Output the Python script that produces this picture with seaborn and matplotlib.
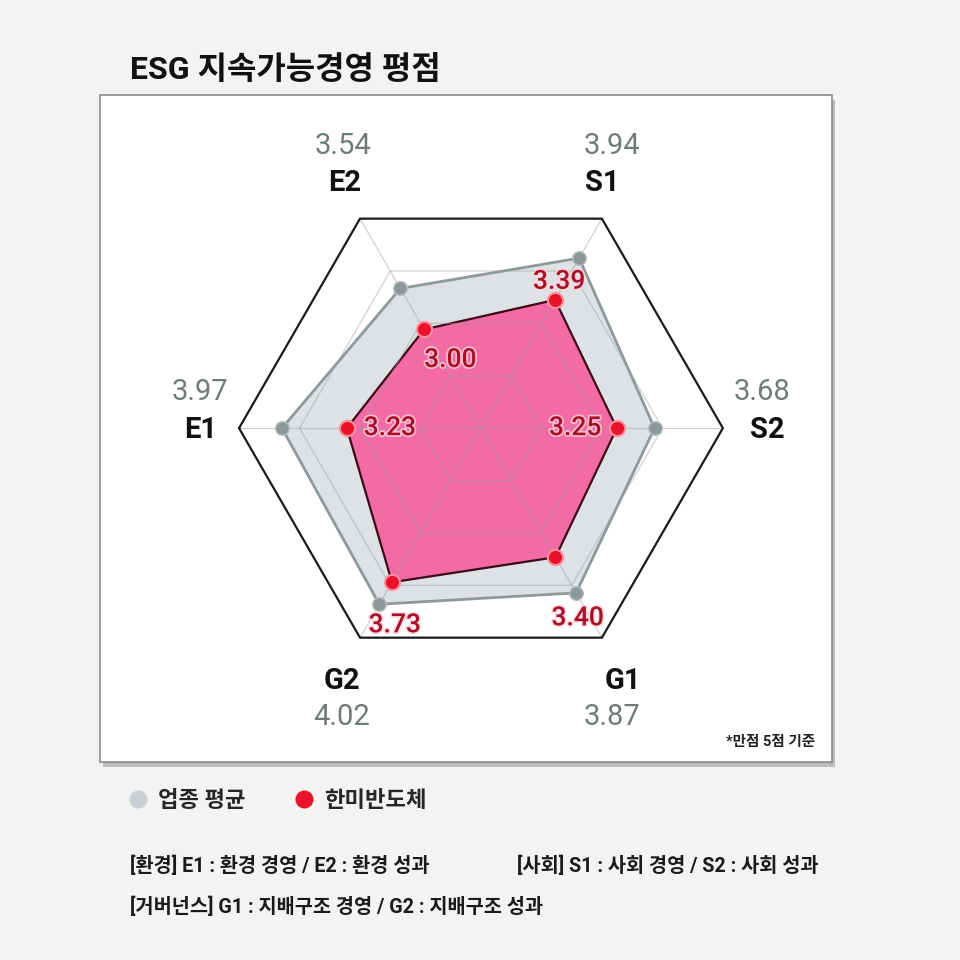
import numpy as np
import pandas as pd
import seaborn as sns
import matplotlib.pyplot as plt
import matplotlib.patheffects as pe
from matplotlib.lines import Line2D
from matplotlib.patches import Rectangle

# scores per ESG axis, clockwise from the left vertex
axes_labels = ['E1', 'E2', 'S1', 'S2', 'G1', 'G2']
industry_avg = [3.97, 3.54, 3.94, 3.68, 3.87, 4.02]
hanmi = [3.23, 3.00, 3.39, 3.25, 3.40, 3.73]
group_names = ['업종 평균', '한미반도체']
ring_levels = [2.39, 3.08, 3.77, 4.46]
r_min = 1.70

notes = ['[환경] E1 : 환경 경영 / E2 : 환경 성과',
         '[사회] S1 : 사회 경영 / S2 : 사회 성과',
         '[거버넌스] G1 : 지배구조 경영 / G2 : 지배구조 성과']

theta = np.linspace(0, 2 * np.pi, len(axes_labels), endpoint=False)
df = pd.DataFrame({
    'axis': axes_labels * 2,
    'theta': np.concatenate([theta, theta]),
    'score': industry_avg + hanmi,
    'group': [group_names[0]] * 6 + [group_names[1]] * 6,
})

sns.set_theme(style='white')
plt.rcParams['font.family'] = ['Roboto', 'Noto Sans CJK KR', 'DejaVu Sans']

GRAY_PT = '#8d9899'
RED_PT = '#e8142c'
RED_TXT = '#a8102a'

fig = plt.figure(figsize=(9.6, 9.6), dpi=100, facecolor='#f3f4f2')

# white panel with a soft shadow
fig.add_artist(Rectangle((0.107, 0.201), 0.7625, 0.695, transform=fig.transFigure,
                         facecolor='#bdbdbd', edgecolor='none', zorder=0))
fig.add_artist(Rectangle((0.104, 0.206), 0.7625, 0.695, transform=fig.transFigure,
                         facecolor='white', edgecolor='#8a8a8a', lw=1.2, zorder=0))

ax = fig.add_axes([0.249, 0.302, 0.504, 0.504], projection='polar')
ax.set_facecolor('none')
ax.set_theta_offset(np.pi)
ax.set_theta_direction(-1)
ax.set_ylim(r_min, ring_levels[-1])
ax.grid(False)
ax.spines['polar'].set_visible(False)
ax.set_xticks([])
ax.set_yticks([])

closed = np.append(theta, theta[0])
avg_c = industry_avg + industry_avg[:1]
han_c = hanmi + hanmi[:1]

# polygons
ax.fill(closed, avg_c, color='#dde1e3', alpha=0.95, zorder=2)
ax.plot(closed, avg_c, color='#8e999b', lw=2, zorder=3)
ax.fill(closed, han_c, color='#f36ba5', zorder=4)
ax.plot(closed, han_c, color='#3d0b18', lw=1.6, zorder=4.2)

# hexagonal grid
for lvl in ring_levels[:-1]:
    ax.plot(closed, [lvl] * 7, color='#9a9a9a', lw=0.9, alpha=0.45, zorder=4.5)
for t in theta:
    ax.plot([t, t], [r_min, ring_levels[-1]], color='#9a9a9a', lw=0.9, alpha=0.45, zorder=4.5)
ax.plot(closed, [ring_levels[-1]] * 7, color='#1a1a1a', lw=1.6, zorder=5, clip_on=False)

sns.scatterplot(data=df[df['group'] == group_names[0]], x='theta', y='score', ax=ax,
                color=GRAY_PT, s=95, edgecolor='#b3bcbe', linewidth=1, legend=False, zorder=6)
sns.scatterplot(data=df[df['group'] == group_names[1]], x='theta', y='score', ax=ax,
                color=RED_PT, s=120, edgecolor='#ff8f9d', linewidth=1.5, legend=False, zorder=6)
ax.set_xlabel('')
ax.set_ylabel('')

# axis names and industry averages outside the hexagon
name_off = [(-28, -1), (-11, 26), (0, 26), (32, -1), (15, -31), (-13, -31)]
avg_off = [(-28, 26), (-12, 52), (7, 52), (28, 26), (7, -57), (-13, -57)]
for i, lab in enumerate(axes_labels):
    ax.annotate(lab, (theta[i], ring_levels[-1]), xytext=name_off[i], textcoords='offset points',
                ha='center', va='center', fontsize=21, weight='bold', color='#111111',
                annotation_clip=False)
    ax.annotate(f'{industry_avg[i]:.2f}', (theta[i], ring_levels[-1]), xytext=avg_off[i],
                textcoords='offset points', ha='center', va='center', fontsize=21,
                color='#6f7a7a', annotation_clip=False)

# company scores next to the red points
han_off = [(31, 0), (19, -22), (3, 13), (-30, 0), (16, -44), (2, -31)]
for i in range(len(axes_labels)):
    ax.annotate(f'{hanmi[i]:.2f}', (theta[i], hanmi[i]), xytext=han_off[i],
                textcoords='offset points', ha='center', va='center', fontsize=19,
                weight='medium', color=RED_TXT, zorder=7,
                path_effects=[pe.withStroke(linewidth=2.5, foreground='#ffd3da', alpha=0.8)])

fig.text(0.135, 0.927, 'ESG 지속가능경영 평점', fontsize=23, weight='bold',
         va='center', color='#111111')
fig.text(815 / 960, 1 - 742 / 960, '*만점 5점 기준', fontsize=10.5, weight='bold',
         ha='right', va='center', color='#222222')

handles = [Line2D([0], [0], marker='o', ls='', markersize=13, markerfacecolor='#c9cfd3',
                  markeredgecolor='none'),
           Line2D([0], [0], marker='o', ls='', markersize=13, markerfacecolor=RED_PT,
                  markeredgecolor='none')]
fig.legend(handles, group_names, loc='center left', bbox_to_anchor=(105 / 960, 1 - 801 / 960),
           frameon=False, ncol=2, prop={'size': 16, 'weight': 'bold'},
           handletextpad=0.3, columnspacing=2.0, handlelength=1.2)

fig.text(130 / 960, 1 - 866 / 960, notes[0], fontsize=14.2, weight='bold', va='center',
         color='#1a1a1a')
fig.text(517 / 960, 1 - 866 / 960, notes[1], fontsize=14.2, weight='bold', va='center',
         color='#1a1a1a')
fig.text(130 / 960, 1 - 907 / 960, notes[2], fontsize=14.2, weight='bold', va='center',
         color='#1a1a1a')

fig.savefig('out.png', dpi=100, facecolor=fig.get_facecolor())
